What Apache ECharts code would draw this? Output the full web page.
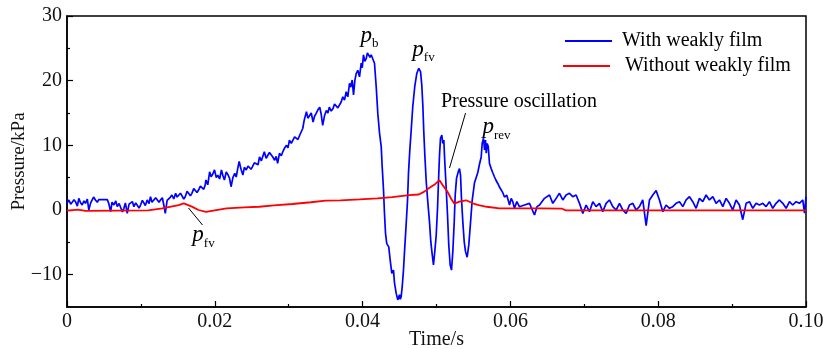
<!DOCTYPE html>
<html><head><meta charset="utf-8">
<script src="https://cdn.jsdelivr.net/npm/echarts@6/dist/echarts.min.js"></script>
<style>html,body{margin:0;padding:0;background:#fff}#c{width:823px;height:349px}</style>
</head><body><div id="c"></div>
<script>
// time in ms, pressure in kPa
const withFilm = [
[0,1.03],[0.25,1.55],[0.5,0.9],[0.7,0.77],[0.95,1.6],[1.15,1.29],[1.4,0.6],[1.6,1.8],[1.8,1.2],[2.05,0.77],[2.3,1.4],[2.5,1.03],[2.75,1.7],[2.95,0],[3.2,1.1],[3.4,1.29],[3.6,2.0],[3.85,1.55],[4.1,1.2],[4.3,1.6],[4.5,1.6],[5.45,1.6],[5.65,1.03],[5.9,-0.26],[6.1,1.2],[6.35,0.77],[6.6,1.4],[6.8,0.52],[7.05,1.0],[7.25,1.03],[7.5,-0.3],[7.7,0.26],[7.9,1.1],[8.15,-0.52],[8.4,0.9],[8.6,0.77],[8.85,1.3],[9.05,0.52],[9.3,1.1],[9.5,1.03],[9.75,0.3],[9.95,0.77],[10.2,1.5],[10.4,1.29],[10.6,0.7],[10.85,1.55],[11.1,1.0],[11.3,2.06],[11.5,1.2],[11.75,1.03],[12.0,1.9],[12.2,1.8],[12.45,1.2],[12.65,1.55],[12.9,1.9],[13.1,0.77],[13.3,-0.52],[13.55,1.5],[13.8,1.29],[14.0,2.0],[14.2,2.32],[14.45,1.7],[14.7,2.58],[14.9,2.0],[15.1,1.8],[15.35,2.6],[15.6,2.32],[15.8,1.7],[16.0,2.06],[16.25,2.9],[16.5,2.83],[16.7,2.2],[16.9,2.58],[17.15,3.3],[17.4,3.35],[17.6,2.7],[17.8,3.09],[18.05,3.7],[18.3,3.61],[18.5,3.2],[18.7,3.86],
[18.8,4.64],[19.05,3.9],[19.3,5.9],[19.5,5.15],[19.75,5.6],[19.96,6.2],[20.2,5.0],[20.4,5.4],[20.65,4.8],[20.9,6.18],[21.1,5.3],[21.3,4.64],[21.55,5.9],[21.8,5.41],[22.0,4.9],[22.2,3.6],[22.45,5.0],[22.7,5.67],[22.9,5.1],[23.1,6.4],[23.3,7.5],[23.55,6.3],[23.8,5.4],[24.0,6.6],[24.25,6.2],[24.5,6.8],[24.7,7.0],[24.9,6.3],[25.1,6.7],[25.35,7.3],[25.6,7.5],[25.85,7.0],[26.05,8.2],[26.3,7.6],[26.5,7.47],[26.7,9.0],[26.95,8.0],[27.2,8.5],[27.4,8.9],[27.6,8.76],[27.85,8.2],[28.1,7.7],[28.3,8.3],[28.5,7.2],[28.75,8.76],[29.0,8.4],[29.2,9.0],[29.45,9.6],[29.7,10.0],[29.9,9.6],[30.1,10.8],[30.35,10.3],[30.55,10.6],[30.8,11.3],[31.0,11.1],[31.25,10.9],[31.5,11.6],[31.7,12.1],[31.9,12.6],[32.1,13.9],[32.4,15.2],[32.6,14.2],[32.8,14.4],[33.05,15.0],[33.3,13.6],[33.5,14.5],[33.7,14.9],[33.95,15.5],[34.2,15.9],[34.4,14.8],[34.6,13.1],[34.85,14.6],[35.1,15.4],[35.3,15.0],[35.5,15.9],[35.75,15.3],[36.0,15.7],[36.2,16.4],[36.4,16.2],[36.65,15.8],[36.87,16.0],[37.1,16.7],[37.32,17.5],[37.55,17.0],[37.78,18.3],
[38.0,17.5],[38.23,19.6],[38.4,19.0],[38.59,20.1],[38.77,17.8],[38.95,20.0],[39.13,21.1],[39.35,21.6],[39.58,20.6],[39.81,22.7],[39.95,22.0],[40.12,24.0],[40.3,23.0],[40.49,23.4],[40.65,24.3],[40.84,24.5],[41.0,23.6],[41.16,24.0],[41.38,24.2],[41.61,22.7],[41.84,19.1],[42.06,14.9],[42.29,11.9],[42.52,9.8],[42.65,6.7],[42.83,3.1],[42.96,-0.5],[43.1,-3.6],[43.27,-5.2],[43.54,-5.7],[43.73,-7.7],[43.95,-9.8],[44.18,-9.3],[44.32,-11.3],[44.55,-12.9],[44.76,-13.9],[44.99,-13.1],[45.1,-13.8],[45.22,-13.4],[45.36,-11.9],[45.53,-9.3],[45.71,-5.7],[45.9,-2.1],[46.08,1.5],[46.21,5.7],[46.39,9.3],[46.58,12.4],[46.79,16.0],[47.06,19.1],[47.33,21.1],[47.47,20.9],[47.6,21.9],[47.7,21.9],[47.84,21.4],[48.01,19.3],[48.15,16.2],[48.28,12.1],[48.42,8.5],[48.61,4.4],[48.82,1.3],[49.05,-1.8],[49.23,-4.9],[49.42,-6.9],[49.59,-8.5],[49.77,-6.4],[49.96,-3.9],[50.14,0.26],[50.27,4.4],[50.41,8.5],[50.54,11.1],[50.72,11.6],[50.85,10.3],[50.99,10.8],[51.12,7.5],[51.31,3.4],[51.49,-0.77],[51.66,-5.4],[51.85,-8.5],[52.03,-9.3],[52.21,-6.4],[52.4,-1.8],[52.53,2.3],[52.71,4.9],[52.94,5.9],[53.11,6.4],[53.25,5.4],[53.38,1.8],[53.56,-1.8],[53.75,-4.9],[53.92,-6.4],[54.15,-7.3],[54.37,-5.4],[54.6,-2.0],[54.83,1.5],[55.14,4.2],[55.59,5.8],[55.8,7.0],[56.05,8.2],[56.18,10.3],[56.36,11.1],[56.5,9.3],[56.63,10.8],[56.73,8.8],[56.86,10.3],[57.0,9.8],[57.17,7.2],[57.4,6.4],[57.6,5.8],[57.85,5.1],[58.05,4.6],[58.29,4.1],[58.5,3.6],[58.76,3.1],[59.0,2.6],[59.2,2.0],[59.51,2.3],[59.88,0.77],[60.11,1.8],[60.32,1.3],[60.55,0.26],[60.87,1.3],[61.23,0.5],
[61.91,0.77],[62.58,1.03],[63.26,-0.77],[63.6,0.52],[63.94,0.77],[64.61,1.8],[65.29,2.32],[65.74,1.03],[66.19,1.8],[66.64,2.58],[67.09,1.55],[67.54,2.32],[67.99,2.58],[68.44,2.06],[68.89,2.32],[69.35,1.03],[69.8,-0.52],[70.25,0.77],[70.7,-0.26],[71.15,1.29],[71.6,0.52],[72.05,1.03],[72.5,-0.26],[72.95,1.03],[73.4,1.55],[73.86,0.52],[74.31,0],[74.76,1.03],[75.21,0],[75.66,-0.52],[76.11,0.77],[76.56,1.03],[77.01,0],[77.46,0.52],[77.91,1.55],[78.37,-2.4],[78.82,1.55],[79.27,2.32],[79.72,3.0],[80.17,1.55],[80.62,-0.26],[81.07,0.77],[81.52,0.26],[81.97,0.52],[82.42,1.03],[82.88,1.29],[83.33,0.52],[83.78,1.55],[84.23,2.06],[84.68,1.29],[85.13,0.26],[85.58,1.8],[86.03,1.29],[86.48,2.32],[86.93,1.55],[87.39,2.06],[87.84,1.03],[88.29,1.55],[88.74,0.52],[89.19,1.8],[89.64,1.03],[90.09,0],[90.54,1.55],[90.99,0.77],[91.44,-1.5],[91.9,1.03],[92.35,1.29],[92.8,0.26],[93.25,1.03],[93.7,0.77],[94.15,1.03],[94.6,0.52],[95.05,1.29],[95.5,0.26],[95.95,1.03],[96.41,1.55],[96.86,1.03],[97.31,0.26],[97.76,1.29],[98.21,0.77],[98.66,1.29],[99.11,1.03],[99.56,1.55],[99.8,-0.5],[100,2.06]
];
const withoutFilm = [
[0,-0.1],[1.5,0.05],[2.5,-0.15],[11,-0.05],[12.9,0.26],[15.1,0.77],[15.8,1.03],[16.9,0.52],[17.8,0.0],[18.8,-0.3],[19.8,-0.1],[21.6,0.26],[24,0.4],[26,0.5],[28,0.7],[30.5,0.93],[33,1.2],[35,1.44],[37,1.5],[39.6,1.65],[42,1.8],[44,2.0],[46.3,2.3],[47.6,2.4],[48.3,2.8],[49,3.4],[49.8,4.0],[50.4,4.6],[50.8,3.9],[51.5,2.8],[52,1.7],[52.4,1.0],[53.1,1.3],[54,1.5],[55,1.0],[55.7,0.77],[56.8,0.5],[58.5,0.26],[61,0.26],[64,0.26],[67,0.2],[67.5,-0.05],[100,-0.05]
];
const seriesNames = ['With weakly film', 'Without weakly film'];
const xTicks = [0, 20, 40, 60, 80, 100];
const yMajor = [-10, 0, 10, 20, 30];
const yMinor = [-5, 5, 15, 25];

const FONT = 'Liberation Serif';
const chart = echarts.init(document.getElementById('c'), null, {renderer: 'canvas'});
const richP = {
  p: {fontFamily: FONT, fontStyle: 'italic', fontSize: 23, color: '#000', verticalAlign: 'bottom', lineHeight: 22},
  s: {fontFamily: FONT, fontSize: 13, color: '#000', verticalAlign: 'bottom', lineHeight: 14, padding: [0, 0, -3, 0]}
};
function ann(x, y, text) {
  return {coord: [x, y], symbol: 'circle', symbolSize: 0, itemStyle: {color: 'rgba(0,0,0,0)'},
    label: {show: true, position: 'inside', formatter: text, rich: richP, fontFamily: FONT, fontSize: 20, color: '#000'}};
}
const option = {
  animation: false,
  backgroundColor: '#fff',
  grid: {left: 67, right: 17, top: 16, bottom: 42, show: true, borderColor: '#000', borderWidth: 1.5,
         outerBoundsMode: 'none', containLabel: false},
  legend: [
    {data: [seriesNames[0]], left: 565, top: 31, padding: 0, itemWidth: 47, itemHeight: 2, icon: 'rect',
     textStyle: {fontFamily: FONT, fontSize: 20, color: '#000', padding: [0, 0, 0, 5]}},
    {data: [seriesNames[1]], left: 563, top: 56, padding: 0, itemWidth: 47, itemHeight: 2, icon: 'rect',
     formatter: n => ' ' + n,
     textStyle: {fontFamily: FONT, fontSize: 20, color: '#000', padding: [0, 0, 0, 5]}}
  ],
  xAxis: {
    type: 'value', min: 0, max: 100, interval: 20,
    axisLine: {show: true, onZero: false, lineStyle: {color: '#000', width: 1.5}},
    axisTick: {show: true, inside: true, length: 6, lineStyle: {color: '#000', width: 1.2}},
    minorTick: {show: true, splitNumber: 2, length: 3, lineStyle: {color: '#000', width: 1.2}},
    splitLine: {show: false},
    axisLabel: {customValues: xTicks, formatter: v => v === 0 ? '0' : (v / 1000).toFixed(2), fontFamily: FONT, fontSize: 20, color: '#111', margin: 5},
    name: 'Time/s', nameLocation: 'middle', nameGap: 23, nameMoveOverlap: false,
    nameTextStyle: {fontFamily: FONT, fontSize: 20, color: '#111', verticalAlign: 'top'}
  },
  yAxis: [
    {type: 'value', min: -15, max: 30, interval: 5,
     axisLine: {show: true, onZero: false, lineStyle: {color: '#000', width: 1.5}},
     axisTick: {show: true, inside: true, length: 6, customValues: yMajor, lineStyle: {color: '#000', width: 1.2}},
     splitLine: {show: false},
     axisLabel: {customValues: yMajor, formatter: v => v < 0 ? '\u2212' + Math.abs(v) : String(v), fontFamily: FONT, fontSize: 20, color: '#111', margin: 5},
     name: 'Pressure/kPa', nameLocation: 'middle', nameGap: 38, nameMoveOverlap: false,
     nameTextStyle: {fontFamily: FONT, fontSize: 19, color: '#111'}},
    {type: 'value', min: -15, max: 30, interval: 5, position: 'left',
     axisLine: {show: false},
     axisTick: {show: true, inside: true, length: 3, customValues: yMinor, lineStyle: {color: '#000', width: 1.2}},
     axisLabel: {show: false}, splitLine: {show: false}}
  ],
  series: [
    {name: seriesNames[0], type: 'line', data: withFilm, showSymbol: false, symbol: 'none',
     lineStyle: {color: '#0000ff', width: 1.7}, itemStyle: {color: '#0000ff'}, z: 2},
    {name: seriesNames[1], type: 'line', data: withoutFilm, showSymbol: false, symbol: 'none',
     lineStyle: {color: '#ff0000', width: 1.8}, itemStyle: {color: '#ff0000'}, z: 3,
     markLine: {silent: true, symbol: ['none', 'none'], label: {show: false},
       lineStyle: {color: '#000', width: 1, type: 'solid'},
       data: [
         [{coord: [53.93, 14.99]}, {coord: [51.76, 6.49]}],
         [{coord: [16.44, 0.31]}, {coord: [18.34, -2.32]}]
       ]},
     markPoint: {silent: true, data: [
       ann(40.93, 26.9, '{p|p}{s|b}'),
       ann(48.24, 24.7, '{p|p}{s|fv}'),
       ann(58.12, 12.7, '{p|p}{s|rev}'),
       ann(18.47, -4.0, '{p|p}{s|fv}'),
       ann(61.16, 16.8, 'Pressure oscillation')
     ]}}
  ]
};
chart.setOption(option);
</script></body></html>
